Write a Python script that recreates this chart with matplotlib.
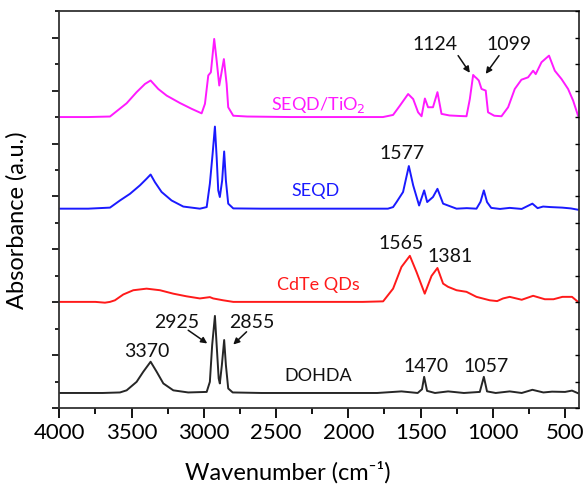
import matplotlib
matplotlib.use('Agg')
import matplotlib.pyplot as plt
from matplotlib.ticker import MultipleLocator

plt.rcParams['font.family'] = ['Lato', 'DejaVu Sans']

# FTIR spectra (stacked, offsets included)
wn_tio2 = [4000, 3800, 3649, 3603, 3534, 3465, 3407, 3368, 3315, 3257, 3165, 3084, 3015,
           2992, 2969, 2951, 2928, 2911, 2893, 2861, 2842, 2831, 2796, 2700, 2400, 2000,
           1760, 1690, 1643, 1586, 1551, 1517, 1493, 1470, 1448, 1414, 1383, 1355, 1300,
           1230, 1182, 1159, 1136, 1124, 1113, 1097, 1078, 1049, 1033, 990, 940, 894, 848,
           802, 756, 721, 703, 663, 611, 571, 525, 479, 444, 410]
ab_tio2 = [11.0, 11.0, 11.02, 11.22, 11.52, 11.94, 12.25, 12.38, 12.06, 11.81, 11.53,
           11.31, 11.14, 11.5, 12.57, 12.69, 13.95, 13.13, 12.19, 13.19, 12.25, 11.37, 11.05,
           11.02, 11.0, 11.0, 11.0, 11.08, 11.43, 11.87, 11.68, 11.18, 11.03, 11.7, 11.37,
           11.37, 11.94, 11.12, 11.06, 11.04, 11.03, 11.68, 12.59, 12.52, 12.47, 12.38, 12.06,
           12.0, 11.18, 11.05, 11.03, 11.37, 12.06, 12.41, 12.5, 12.75, 12.62, 13.07, 13.32,
           12.75, 12.44, 12.06, 11.62, 11.05]

wn_seqd = [4000, 3800, 3649, 3580, 3511, 3442, 3396, 3368, 3338, 3292, 3223, 3142, 3027,
           2980, 2958, 2939, 2923, 2911, 2900, 2889, 2873, 2859, 2847, 2831, 2796, 2600,
           2300, 2000, 1726, 1690, 1666, 1621, 1581, 1551, 1510, 1475, 1454, 1414, 1383,
           1344, 1310, 1251, 1180, 1113, 1085, 1062, 1040, 1011, 950, 883, 800, 726, 690,
           652, 600, 520, 460, 410]
ab_seqd = [7.54, 7.54, 7.58, 7.85, 8.1, 8.42, 8.67, 8.83, 8.54, 8.17, 7.85, 7.62, 7.54,
           7.6, 8.48, 9.61, 10.64, 9.48, 8.23, 7.98, 8.6, 9.7, 8.6, 7.73, 7.55, 7.54, 7.54,
           7.54, 7.54, 7.6, 7.79, 8.17, 9.15, 8.42, 7.66, 8.23, 7.79, 7.98, 8.29, 7.73, 7.66,
           7.54, 7.56, 7.54, 7.8, 8.23, 7.79, 7.57, 7.53, 7.57, 7.53, 7.73, 7.56, 7.62, 7.6,
           7.58, 7.55, 7.5]

wn_cdte = [4000, 3750, 3684, 3649, 3615, 3557, 3488, 3396, 3303, 3211, 3119, 3027, 2958,
           2935, 2866, 2796, 2600, 2200, 1900, 1759, 1690, 1632, 1574, 1528, 1471, 1424,
           1383, 1344, 1310, 1251, 1182, 1113, 1021, 970, 929, 883, 800, 721, 640, 580,
           518, 452, 410]
ab_cdte = [4.02, 4.02, 3.99, 4.02, 4.08, 4.3, 4.46, 4.52, 4.46, 4.33, 4.23, 4.15, 4.2,
           4.15, 4.08, 4.02, 4.02, 4.02, 4.02, 4.04, 4.52, 5.34, 5.76, 5.15, 4.33, 5.0, 5.3,
           4.71, 4.59, 4.46, 4.4, 4.21, 4.08, 4.05, 4.15, 4.21, 4.1, 4.25, 4.12, 4.12, 4.21,
           4.21, 4.02]

wn_dohda = [4000, 3700, 3580, 3534, 3465, 3419, 3368, 3326, 3280, 3211, 3108, 2980, 2958,
            2942, 2923, 2911, 2897, 2889, 2875, 2859, 2847, 2831, 2800, 2600, 2200, 1800,
            1632, 1520, 1490, 1475, 1455, 1400, 1309, 1200, 1090, 1062, 1040, 980, 883, 800,
            726, 650, 590, 500, 452, 410]
ab_dohda = [0.58, 0.58, 0.6, 0.68, 1.0, 1.38, 1.76, 1.38, 0.94, 0.68, 0.6, 0.62, 1.0, 2.39,
            3.49, 2.39, 1.13, 0.94, 1.63, 2.58, 1.63, 0.75, 0.6, 0.58, 0.58, 0.58, 0.64, 0.58,
            0.72, 1.19, 0.66, 0.58, 0.64, 0.58, 0.62, 1.19, 0.64, 0.58, 0.64, 0.58, 0.7, 0.6,
            0.63, 0.62, 0.67, 0.57]

series = [
    (wn_tio2, ab_tio2, '#ff1aff'),
    (wn_seqd, ab_seqd, '#1a1aff'),
    (wn_cdte, ab_cdte, '#ff1a1a'),
    (wn_dohda, ab_dohda, '#262626'),
]

fig = plt.figure(figsize=(5.87, 4.85), dpi=100)
ax = fig.add_axes([0.101, 0.156, 0.885, 0.819])

for wn, ab, c in series:
    ax.plot(wn, ab, color=c, lw=1.4)

ax.set_xlim(4000, 405)
ax.set_ylim(0, 15)
ax.xaxis.set_major_locator(MultipleLocator(500))
ax.xaxis.set_minor_locator(MultipleLocator(250))
ax.yaxis.set_major_locator(MultipleLocator(2))
ax.yaxis.set_minor_locator(MultipleLocator(1))
ax.set_yticklabels([])
ax.tick_params(axis='x', which='major', direction='out', length=7, width=1.3, labelsize=16, pad=3)
ax.tick_params(axis='x', which='minor', direction='out', length=4, width=1.3)
ax.tick_params(axis='y', which='major', direction='out', length=5, width=1.2)
ax.tick_params(axis='y', which='minor', direction='out', length=3, width=1.2)
for s in ax.spines.values():
    s.set_linewidth(1.3)
    s.set_color('#333333')

# inward ticks on the right spine
ax2 = ax.twinx()
ax2.set_ylim(0, 15)
ax2.yaxis.set_major_locator(MultipleLocator(2))
ax2.yaxis.set_minor_locator(MultipleLocator(1))
ax2.set_yticklabels([])
ax2.tick_params(axis='y', which='both', direction='in', length=3, width=1.0)
for s in ax2.spines.values():
    s.set_visible(False)

ax.set_xlabel('Wavenumber (cm\u207b\u00b9)', fontsize=17)
ax.xaxis.set_label_coords(0.44, -0.13)
ax.set_ylabel('Absorbance (a.u.)', fontsize=17)
ax.yaxis.set_label_coords(-0.062, 0.477)

# series labels
fs = 13
ax.text(2210, 11.5, 'SEQD/TiO$_2$', color='#ff1aff', fontsize=fs, ha='center', va='center')
ax.text(2224, 8.23, 'SEQD', color='#1a1aff', fontsize=fs, ha='center', va='center')
ax.text(2208, 4.71, 'CdTe QDs', color='#ff1a1a', fontsize=fs, ha='center', va='center')
ax.text(2208, 1.26, 'DOHDA', color='#111111', fontsize=fs, ha='center', va='center')

# peak labels
peaks = [('1124', 1401, 13.76), ('1099', 887, 13.76), ('1577', 1627, 9.68),
         ('1565', 1632, 6.28), ('1381', 1298, 5.78), ('1470', 1459, 1.63),
         ('1057', 1044, 1.63), ('3370', 3395, 2.2), ('2925', 3188, 3.29), ('2855', 2669, 3.29)]
for t, x, y in peaks:
    ax.text(x, y, t, fontsize=14, ha='center', va='center', color='#111111')

arrows = [((1240, 13.32), (1159, 12.67)), ((957, 13.32), (1049, 12.63)),
          ((3108, 2.95), (2976, 2.45)), ((2704, 2.89), (2796, 2.41))]
for (x0, y0), (x1, y1) in arrows:
    ax.annotate('', xy=(x1, y1), xytext=(x0, y0),
                arrowprops=dict(arrowstyle='-|>', color='#111111', lw=1.1,
                                mutation_scale=9, shrinkA=0, shrinkB=0))

fig.savefig('out.png', dpi=100)
